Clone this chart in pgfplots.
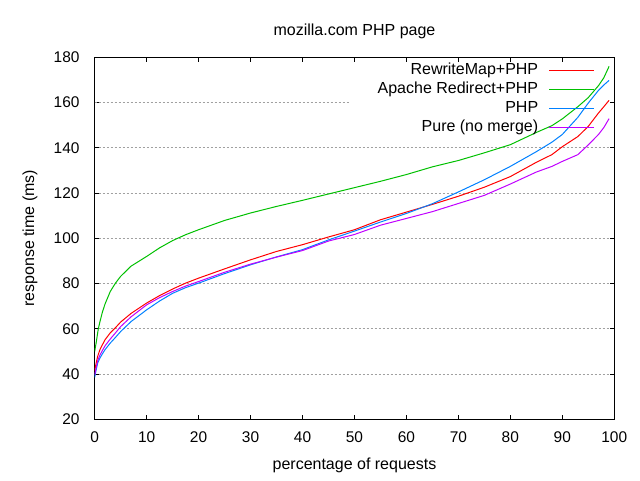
\documentclass[border=0pt]{standalone}
\usepackage{fontspec}
\setmainfont{Liberation Sans}
\usepackage{pgfplots}
\pgfplotsset{compat=1.18}
\definecolor{gpred}{RGB}{255,0,0}
\definecolor{gpgreen}{RGB}{0,192,0}
\definecolor{gpblue}{RGB}{0,128,255}
\definecolor{gppurple}{RGB}{192,0,255}
\definecolor{gridgray}{RGB}{160,160,160}
\begin{document}
\begin{tikzpicture}
\begin{axis}[
  scale only axis,
  width=389.7pt, height=271.5pt,
  xmin=0, xmax=100, ymin=20, ymax=180,
  xtick={0,10,...,100}, ytick={20,40,...,180},
  tick align=inside,
  major tick length=3.5pt,
  every tick/.style={black, line width=0.6pt},
  axis line style={line width=0.75pt},
  font=\fontsize{12}{14}\selectfont,
  /pgf/number format/assume math mode=true,
  ticklabel style={font=\fontsize{11.6}{14}\selectfont},
  yticklabel style={xshift=-7.8pt},
  xticklabel style={yshift=-5.6pt},
  extra y ticks={40,60,80,100,120,140},
  extra y tick labels={},
  extra y tick style={grid=major, major grid style={gridgray, line width=0.6pt, dash pattern=on 1.5pt off 1.5pt}},
  title={mozilla.com PHP page},
  title style={at={(axis description cs:0.5,1.078)}, anchor=center, yshift=-7.5pt, font=\fontsize{12}{14}\selectfont},
  xlabel={percentage of requests},
  xlabel style={at={(axis description cs:0.5,-0.127)}, anchor=center},
  ylabel={response time (ms)},
  ylabel style={at={(axis description cs:-0.1245,0.5)}, anchor=center},
  legend cell align=right,
  legend plot pos=right,
  legend image code/.code={\draw[#1, line width=0.9pt] (0pt,0pt) -- (33.75pt,0pt);},
  legend style={draw=none, fill=none, at={(axis description cs:0.9629,0.9898)}, anchor=north east,
    font=\fontsize{12}{14}\selectfont, row sep=0.75pt, column sep=6.75pt, inner sep=0pt,
    nodes={text height=9pt, text depth=2.5pt, inner sep=1pt}},
]
\draw[gridgray, line width=0.6pt, dash pattern=on 1.5pt off 1.5pt] (axis cs:0,160) -- (axis cs:49.1,160);

\addplot[color=gpred, line width=0.75pt] coordinates {
(0,41.5)(0.3,45)(0.6,48)(1,50.7)(1.5,53)(2,55.2)(3,58.2)(4,60.5)(5,63)(7,66.8)(10,71.4)(12.5,74.7)(15,77.6)(17.5,80.2)(20,82.4)(25,86.5)(30,90.5)(35,94.2)(40,97.2)(45,100.6)(50,103.8)(55,108.2)(60,111.6)(65,115)(70,118.6)(75,122.6)(80,127.3)(85,133.6)(88,137)(90,140.5)(93,145)(95,149.5)(97,155.5)(98,158.2)(99,161)
};
\addlegendentry{RewriteMap+PHP}
\addplot[color=gpgreen, line width=0.75pt] coordinates {
(0,50)(0.3,54)(0.7,60)(1,63)(1.5,67.5)(2,71)(3,76.5)(4,80.2)(5,83.2)(7,87.7)(10,92)(12.5,95.8)(15,99)(17.5,101.6)(20,103.8)(25,107.9)(30,111.2)(35,114.1)(40,116.8)(45,119.6)(50,122.4)(55,125.2)(60,128.2)(65,131.6)(70,134.4)(75,137.8)(80,141.4)(85,146.8)(88,149.8)(90,152.8)(93,158.2)(95,162.2)(97,167.6)(98,171)(99,176)
};
\addlegendentry{Apache Redirect+PHP}
\addplot[color=gpblue, line width=0.75pt] coordinates {
(0,38.5)(0.3,42)(0.6,45)(1,47)(1.5,49)(2,50.8)(3,53.7)(4,56.2)(5,58.8)(7,63.2)(10,68.4)(12.5,72.3)(15,75.7)(17.5,78.2)(20,80.2)(25,84.4)(30,88.3)(35,91.8)(40,95)(45,99.3)(50,103.2)(55,107.2)(60,111)(65,115.3)(70,120.5)(75,125.9)(80,131.8)(85,138.3)(88,142.5)(90,145.9)(93,153.5)(95,159.8)(97,165.5)(98,167.8)(99,169.8)
};
\addlegendentry{PHP}
\addplot[color=gppurple, line width=0.75pt] coordinates {
(0,39.5)(0.3,43)(0.6,46)(1,48.3)(1.5,50.5)(2,52.5)(3,55.5)(4,58.2)(5,61)(7,65.3)(10,70.6)(12.5,73.8)(15,76.5)(17.5,78.9)(20,80.9)(25,85)(30,88.6)(35,91.7)(40,94.6)(45,98.8)(50,101.7)(55,105.8)(60,108.8)(65,111.8)(70,115.4)(75,119)(80,124)(85,129.3)(88,131.8)(90,134)(93,137)(95,141.3)(97,146)(98,149)(99,152.9)
};
\addlegendentry{Pure (no merge)}
\end{axis}
\pgfresetboundingbox
\path ([shift={(-71pt,-45.5pt)}]current axis.south west) rectangle ++(480pt,360pt);
\end{tikzpicture}
\end{document}
